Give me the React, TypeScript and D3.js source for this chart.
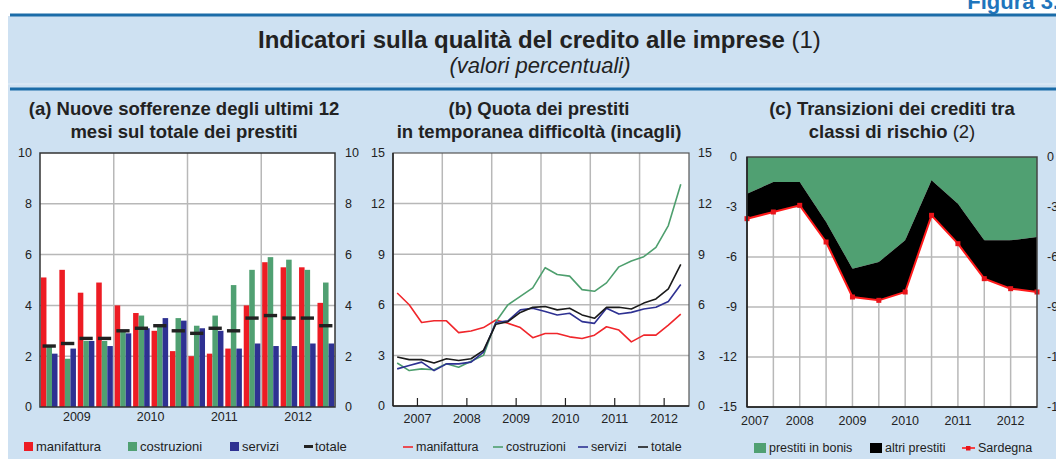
import React from 'react';
import * as d3 from 'd3';

// (a) nuove sofferenze, quarterly 2009-2012
const quartersA = [
  '2009T1', '2009T2', '2009T3', '2009T4',
  '2010T1', '2010T2', '2010T3', '2010T4',
  '2011T1', '2011T2', '2011T3', '2011T4',
  '2012T1', '2012T2', '2012T3', '2012T4',
];
const yearsA = ['2009', '2010', '2011', '2012'];
const manifatturaA = [5.1, 5.4, 4.5, 4.9, 4.0, 3.7, 3.0, 2.2, 2.0, 2.1, 2.3, 4.0, 5.7, 5.5, 5.5, 4.1];
const costruzioniA = [2.4, 1.9, 2.6, 2.6, 3.0, 3.6, 3.2, 3.5, 3.2, 3.6, 4.8, 5.4, 5.9, 5.8, 5.4, 4.9];
const serviziA = [2.1, 2.3, 2.6, 2.4, 2.9, 3.1, 3.5, 3.4, 3.1, 3.0, 2.3, 2.5, 2.4, 2.4, 2.5, 2.5];
const totaleA = [2.4, 2.5, 2.7, 2.7, 3.0, 3.1, 3.2, 3.0, 2.9, 3.1, 3.0, 3.5, 3.6, 3.5, 3.5, 3.2];
const ticksA = [0, 2, 4, 6, 8, 10];

// (b) incagli, quarterly 2007-2012
const yearsB = ['2007', '2008', '2009', '2010', '2011', '2012'];
const manifatturaB = [6.7, 6.0, 4.95, 5.05, 5.05, 4.35, 4.45, 4.65, 5.1, 4.9, 4.65, 4.05, 4.3, 4.3, 4.1, 4.0, 4.2, 4.7, 4.5, 3.8, 4.2, 4.2, 4.8, 5.45];
const costruzioniB = [2.55, 2.1, 2.2, 2.15, 2.5, 2.3, 2.65, 3.0, 5.0, 6.0, 6.5, 7.0, 8.2, 7.8, 7.7, 6.9, 6.8, 7.3, 8.25, 8.6, 8.85, 9.4, 10.7, 13.15];
const serviziB = [2.2, 2.4, 2.6, 2.1, 2.5, 2.5, 2.6, 3.2, 4.95, 5.05, 5.7, 5.8, 5.6, 5.4, 5.5, 5.0, 4.9, 5.8, 5.45, 5.55, 5.75, 5.85, 6.2, 7.2];
const totaleB = [2.9, 2.75, 2.75, 2.55, 2.8, 2.7, 2.8, 3.3, 4.85, 5.0, 5.55, 5.85, 5.9, 5.7, 5.8, 5.4, 5.2, 5.85, 5.85, 5.75, 6.1, 6.35, 6.95, 8.4];
const ticksB = [0, 3, 6, 9, 12, 15];

// (c) transizioni, semiannual 2007-2012
const periodsC = [
  '2007S1', '2007S2', '2008S1', '2008S2', '2009S1', '2009S2',
  '2010S1', '2010S2', '2011S1', '2011S2', '2012S1', '2012S2',
];
const yearLabelsC = ['2007', '', '2008', '', '2009', '', '2010', '', '2011', '', '2012', ''];
const bonisC = [-2.2, -1.5, -1.5, -3.9, -6.7, -6.3, -5.0, -1.4, -2.8, -5.0, -5.0, -4.8];
const altriC = [-1.5, -1.8, -1.4, -1.2, -1.7, -2.3, -3.1, -2.1, -2.4, -2.3, -2.9, -3.3];
const sardegnaC = [-3.7, -3.3, -2.9, -5.1, -8.4, -8.6, -8.1, -3.5, -5.2, -7.3, -7.9, -8.1];
const ticksC = [0, -3, -6, -9, -12, -15];

const FONT = '"Liberation Sans", Arial, Helvetica, sans-serif';
const RED = '#ED1C24';
const GREEN = '#50A072';
const BLUE = '#2E3192';
const BG = '#CEE1F2';
const LINE_BLUE = '#1B6CA8';
const GRID = '#B8B8B8';
const TXT = '#222';

const PanelA = () => {
  const left = 40, right = 335, top = 153, bottom = 407;
  const x0 = d3.scaleBand().domain(quartersA).range([left, right]).paddingInner(0.1).paddingOuter(0.05);
  const x1 = d3.scaleBand().domain(['m', 'c', 's']).range([0, x0.bandwidth()]);
  const xYear = d3.scaleBand().domain(yearsA).range([left, right]);
  const y = d3.scaleLinear().domain([0, 10]).range([bottom, top]);
  const series = [
    { key: 'm', values: manifatturaA, color: RED },
    { key: 'c', values: costruzioniA, color: GREEN },
    { key: 's', values: serviziA, color: BLUE },
  ];
  return (
    <g>
      <rect x={left} y={top} width={right - left} height={bottom - top} fill="#fff" />
      {ticksA.slice(1, -1).map(t => (
        <line key={t} x1={left} x2={right} y1={y(t)} y2={y(t)} stroke={GRID} strokeWidth={1.5} />
      ))}
      {yearsA.slice(1).map(yr => (
        <line key={yr} x1={xYear(yr)} x2={xYear(yr)} y1={top} y2={bottom} stroke={GRID} strokeWidth={1.5} />
      ))}
      {series.map(s => s.values.map((v, i) => (
        <rect key={s.key + i} x={x0(quartersA[i])! + x1(s.key)!} y={y(v)} width={x1.bandwidth()} height={bottom - y(v)} fill={s.color} />
      )))}
      {totaleA.map((v, i) => (
        <rect key={'t' + i} x={x0(quartersA[i])! + x0.bandwidth() * 0.1} y={y(v) - 1.7} width={x0.bandwidth() * 0.8} height={3.4} fill="#222" />
      ))}
      <rect x={left} y={top} width={right - left} height={bottom - top} fill="none" stroke="#333" strokeWidth={1.5} />
      {ticksA.map(t => (
        <g key={t} fontSize={12.5} fill={TXT}>
          <text x={left - 8} y={y(t)} dy="0.35em" textAnchor="end">{t}</text>
          <text x={right + 10} y={y(t)} dy="0.35em" textAnchor="start">{t}</text>
        </g>
      ))}
      {yearsA.map(yr => (
        <text key={yr} x={xYear(yr)! + xYear.bandwidth() / 2} y={421} textAnchor="middle" fontSize={12.5} fill={TXT}>{yr}</text>
      ))}
      <g fontSize={13} fill={TXT}>
        <rect x={24} y={442} width={9} height={9} fill={RED} />
        <text x={36} y={451}>manifattura</text>
        <rect x={128} y={442} width={9} height={9} fill={GREEN} />
        <text x={140} y={451}>costruzioni</text>
        <rect x={230} y={442} width={9} height={9} fill={BLUE} />
        <text x={242} y={451}>servizi</text>
        <rect x={304} y={445} width={9} height={3} fill="#222" />
        <text x={315} y={451}>totale</text>
      </g>
    </g>
  );
};

const PanelB = () => {
  const left = 393, right = 689, top = 153, bottom = 406;
  const x = d3.scaleTime().domain([new Date(2007, 0, 1), new Date(2013, 0, 1)]).range([left, right]);
  const y = d3.scaleLinear().domain([0, 15]).range([bottom, top]);
  const dates = manifatturaB.map((_, i) => new Date(2007, 3 * i + 1, 1));
  const line = d3.line<number>().x((_, i) => x(dates[i])).y(v => y(v));
  const series = [
    { values: manifatturaB, color: '#F0262B' },
    { values: costruzioniB, color: '#4E9F6E' },
    { values: serviziB, color: '#2E3192' },
    { values: totaleB, color: '#1A1A1A' },
  ];
  return (
    <g>
      <rect x={left} y={top} width={right - left} height={bottom - top} fill="#fff" />
      {ticksB.slice(1, -1).map(t => (
        <line key={t} x1={left} x2={right} y1={y(t)} y2={y(t)} stroke={GRID} strokeWidth={1.5} />
      ))}
      {yearsB.slice(1).map(yr => (
        <line key={yr} x1={x(new Date(+yr, 0, 1))} x2={x(new Date(+yr, 0, 1))} y1={top} y2={bottom} stroke={GRID} strokeWidth={1.5} />
      ))}
      {series.map((s, k) => (
        <path key={k} d={line(s.values)!} fill="none" stroke={s.color} strokeWidth={1.6} strokeLinejoin="round" />
      ))}
      <rect x={left} y={top} width={right - left} height={bottom - top} fill="none" stroke="#555" strokeWidth={1.2} />
      <line x1={left} x2={left} y1={top} y2={bottom} stroke="#222" strokeWidth={1.5} />
      <line x1={left} x2={right} y1={bottom} y2={bottom} stroke="#222" strokeWidth={1.5} />
      {yearsB.map(yr => (
        <line key={'tk' + yr} x1={x(new Date(+yr, 6, 1))} x2={x(new Date(+yr, 6, 1))} y1={bottom} y2={bottom - 8} stroke="#222" strokeWidth={1.2} />
      ))}
      {ticksB.map(t => (
        <g key={t} fontSize={12.5} fill={TXT}>
          <text x={left - 8} y={y(t)} dy="0.35em" textAnchor="end">{t}</text>
          <text x={right + 9} y={y(t)} dy="0.35em" textAnchor="start">{t}</text>
        </g>
      ))}
      {yearsB.map(yr => (
        <text key={yr} x={x(new Date(+yr, 6, 1))} y={423} textAnchor="middle" fontSize={12.5} fill={TXT}>{yr}</text>
      ))}
      <g fontSize={12.5} fill={TXT}>
        <line x1={403} x2={413} y1={447} y2={447} stroke="#F0262B" strokeWidth={1.6} />
        <text x={416} y={451}>manifattura</text>
        <line x1={493} x2={503} y1={447} y2={447} stroke="#4E9F6E" strokeWidth={1.6} />
        <text x={506} y={451}>costruzioni</text>
        <line x1={578} x2={588} y1={447} y2={447} stroke="#2E3192" strokeWidth={1.6} />
        <text x={591} y={451}>servizi</text>
        <line x1={638} x2={648} y1={447} y2={447} stroke="#1A1A1A" strokeWidth={1.6} />
        <text x={651} y={451}>totale</text>
      </g>
    </g>
  );
};

const PanelC = () => {
  const left = 747, right = 1037, top = 157, bottom = 407;
  const x = d3.scalePoint().domain(periodsC).range([left, right]);
  const y = d3.scaleLinear().domain([-15, 0]).range([bottom, top]);
  const rows = periodsC.map((p, i) => ({ p, bonis: bonisC[i], altri: altriC[i] }));
  const stacked = d3.stack<any>().keys(['bonis', 'altri']).offset(d3.stackOffsetDiverging)(rows);
  const area = d3.area<any>().x(d => x(d.data.p)!).y0(d => y(d[0])).y1(d => y(d[1]));
  const line = d3.line<number>().x((_, i) => x(periodsC[i])!).y(v => y(v));
  return (
    <g>
      <rect x={left} y={top} width={right - left} height={bottom - top} fill="#fff" />
      {ticksC.slice(1, -1).map(t => (
        <line key={t} x1={left} x2={right} y1={y(t)} y2={y(t)} stroke={GRID} strokeWidth={1.5} />
      ))}
      {periodsC.slice(1, -1).map(p => (
        <line key={p} x1={x(p)} x2={x(p)} y1={top} y2={bottom} stroke={GRID} strokeWidth={1.5} />
      ))}
      <path d={area(stacked[0])!} fill={GREEN} />
      <path d={area(stacked[1])!} fill="#000" />
      <path d={line(sardegnaC)!} fill="none" stroke="#FF1A1A" strokeWidth={2} />
      {sardegnaC.map((v, i) => (
        <rect key={i} x={x(periodsC[i])! - 2.5} y={y(v) - 2.5} width={5} height={5} fill="#E8141A" />
      ))}
      <rect x={left} y={top} width={right - left} height={bottom - top} fill="none" stroke="#444" strokeWidth={1.5} />
      <line x1={left} x2={left} y1={top} y2={bottom} stroke="#222" strokeWidth={1.5} />
      <line x1={left} x2={right} y1={bottom} y2={bottom} stroke="#222" strokeWidth={1.5} />
      {ticksC.map(t => (
        <g key={t} fontSize={12.5} fill={TXT}>
          <text x={left - 10} y={y(t)} dy="0.35em" textAnchor="end">{t}</text>
          <text x={right + 10} y={y(t)} dy="0.35em" textAnchor="start">{t}</text>
        </g>
      ))}
      {yearLabelsC.map((lab, i) => lab && (
        <text key={lab} x={x(periodsC[i])! + (i === 0 ? 8 : 0)} y={425} textAnchor="middle" fontSize={12.5} fill={TXT}>{lab}</text>
      ))}
      <g fontSize={12.5} fill={TXT}>
        <rect x={754} y={443} width={12} height={10} fill={GREEN} />
        <text x={769} y={452}>prestiti in bonis</text>
        <rect x={870} y={443} width={12} height={10} fill="#000" />
        <text x={885} y={452}>altri prestiti</text>
        <line x1={962} x2={975} y1={448} y2={448} stroke="#FF1A1A" strokeWidth={1.6} />
        <rect x={966} y={446} width={4.5} height={4.5} fill="#E8141A" />
        <text x={978} y={452}>Sardegna</text>
      </g>
    </g>
  );
};

export default function App() {
  return (
    <div style={{ position: 'absolute', left: 0, top: 0 }}>
      <svg width={1056} height={459} style={{ display: 'block', fontFamily: FONT }}>
        <rect x={0} y={0} width={1056} height={459} fill="#fff" />
        <rect x={8} y={16} width={1048} height={443} fill={BG} />
        <text x={1059} y={9} textAnchor="end" fontSize={22} fontWeight="bold" fill="#1F75BC">Figura 3.</text>
        <line x1={10} x2={1056} y1={15} y2={15} stroke={LINE_BLUE} strokeWidth={3} />
        <line x1={8} x2={1056} y1={84} y2={84} stroke="#E4EEF8" strokeWidth={1} />
        <line x1={10} x2={1056} y1={89} y2={89} stroke={LINE_BLUE} strokeWidth={3} />
        <text x={258} y={48} fontSize={24} fill={TXT}>
          <tspan fontWeight="bold">Indicatori sulla qualità del credito alle imprese</tspan>
          <tspan> (1)</tspan>
        </text>
        <text x={540} y={73} textAnchor="middle" fontSize={22} fontStyle="italic" fill={TXT}>(valori percentuali)</text>
        <g fontSize={18.5} fontWeight="bold" fill={TXT} textAnchor="middle">
          <text x={184} y={115}>(a) Nuove sofferenze degli ultimi 12</text>
          <text x={184} y={138}>mesi sul totale dei prestiti</text>
          <text x={539} y={115}>(b) Quota dei prestiti</text>
          <text x={539} y={138}>in temporanea difficoltà (incagli)</text>
          <text x={892} y={115}>(c) Transizioni dei crediti tra</text>
          <text x={892} y={138}>classi di rischio<tspan fontWeight="normal"> (2)</tspan></text>
        </g>
        <PanelA />
        <PanelB />
        <PanelC />
      </svg>
    </div>
  );
}
